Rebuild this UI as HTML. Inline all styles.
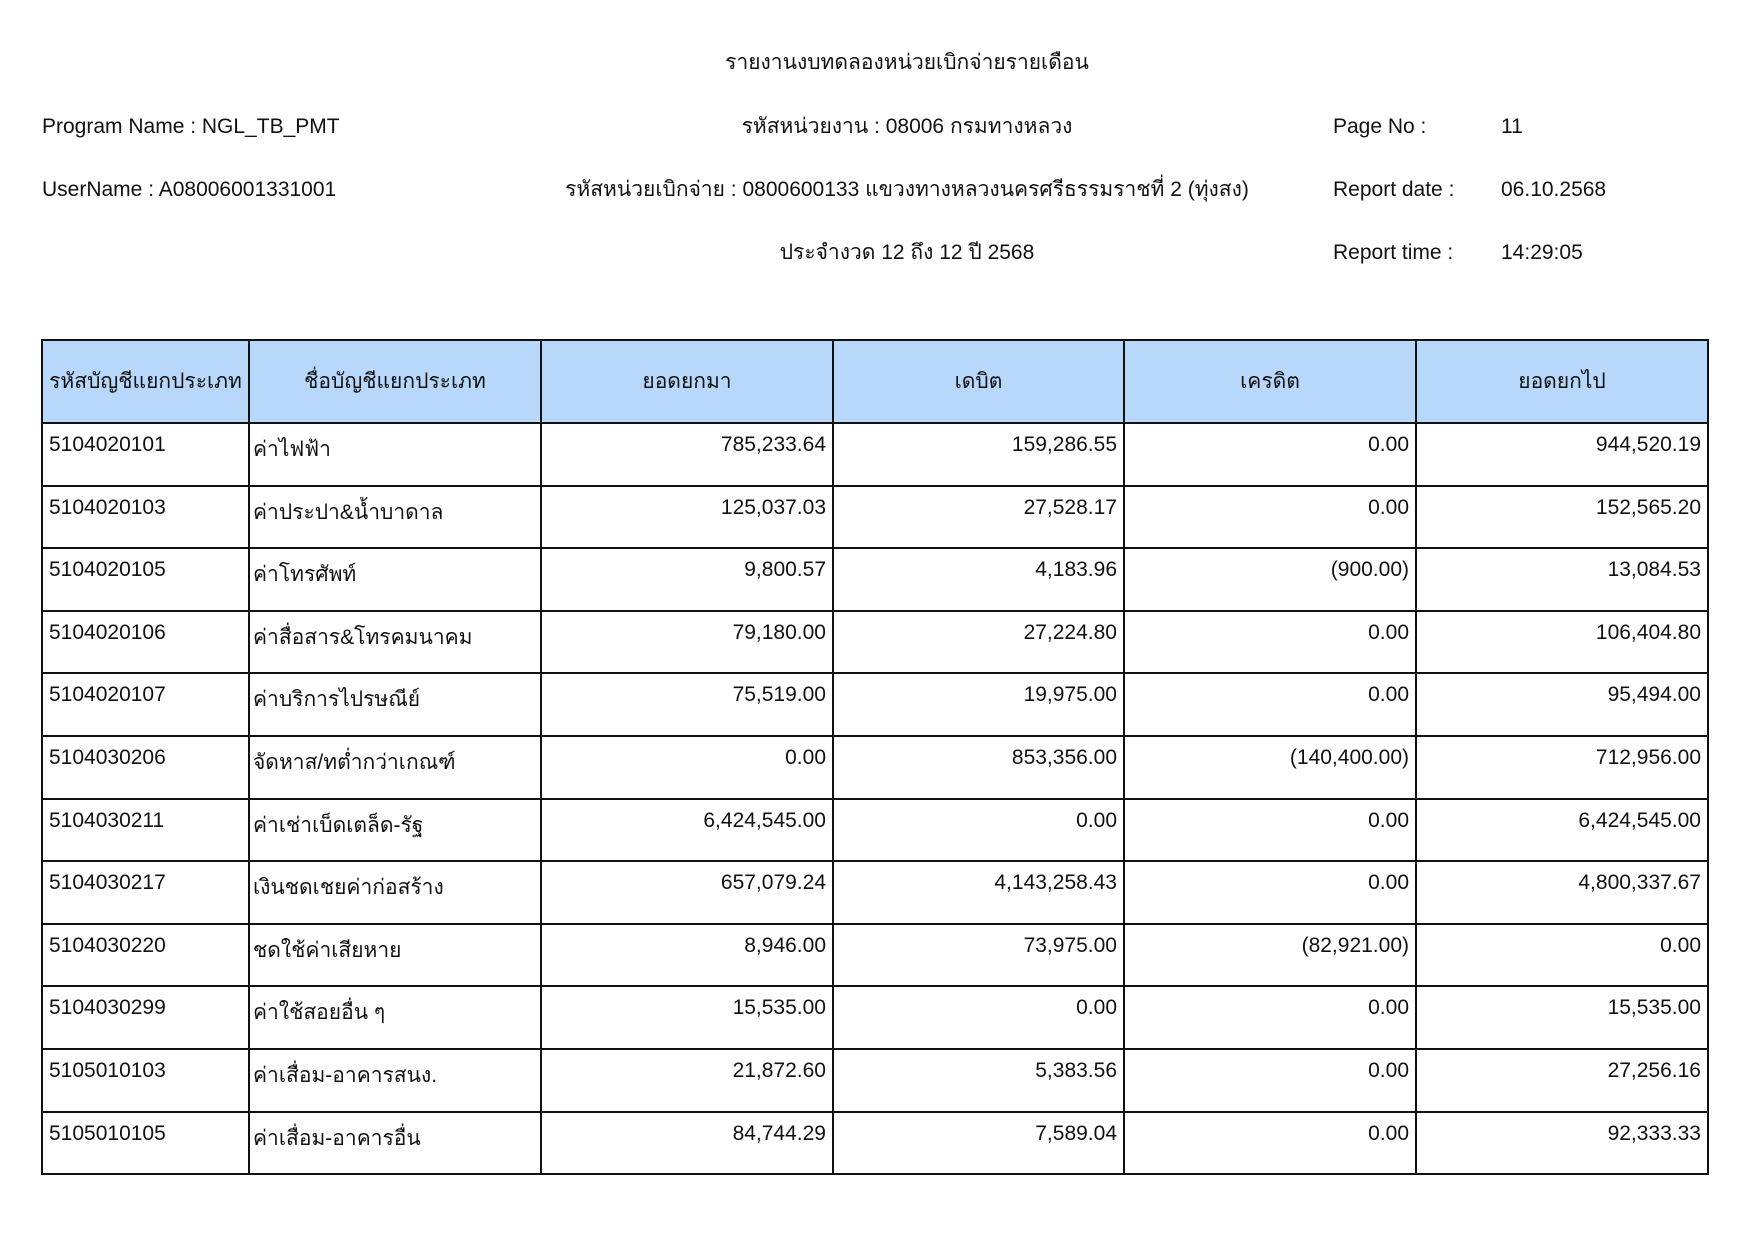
<!DOCTYPE html>
<html><head><meta charset="utf-8">
<style>
body{margin:0;width:1755px;height:1240px;background:#fff;font-family:"Liberation Sans",sans-serif;font-size:21px;color:#111;position:relative;overflow:hidden}
.t{position:absolute;white-space:nowrap;line-height:24px}
.c{transform:translateX(-50%)}
table{position:absolute;left:41px;top:339px;border-collapse:collapse;table-layout:fixed}
td,th{border:2px solid #111;padding:0 6px;font-weight:normal;white-space:nowrap;overflow:hidden}
th{background:#b7d7fb;height:81px;text-align:center}
td{height:62.6px;vertical-align:top;padding-top:9px;box-sizing:border-box}
td.r{text-align:right}
td.n{padding-left:3px}
</style></head><body>
<div class="t c" style="left:907px;top:51px">รายงานงบทดลองหน่วยเบิกจ่ายรายเดือน</div>
<div class="t" style="left:42px;top:115px">Program Name : NGL_TB_PMT</div>
<div class="t c" style="left:907px;top:115px">รหัสหน่วยงาน : 08006 กรมทางหลวง</div>
<div class="t" style="left:1333px;top:115px">Page No :</div>
<div class="t" style="left:1501px;top:115px">11</div>
<div class="t" style="left:42px;top:178px">UserName : A08006001331001</div>
<div class="t c" style="left:907px;top:178px">รหัสหน่วยเบิกจ่าย : 0800600133 แขวงทางหลวงนครศรีธรรมราชที่ 2 (ทุ่งสง)</div>
<div class="t" style="left:1333px;top:178px">Report date :</div>
<div class="t" style="left:1501px;top:178px">06.10.2568</div>
<div class="t c" style="left:907px;top:241px">ประจำงวด 12 ถึง 12 ปี 2568</div>
<div class="t" style="left:1333px;top:241px">Report time :</div>
<div class="t" style="left:1501px;top:241px">14:29:05</div>
<table>
<colgroup><col style="width:207px"><col style="width:292px"><col style="width:292px"><col style="width:291px"><col style="width:292px"><col style="width:292px"></colgroup>
<tr><th>รหัสบัญชีแยกประเภท</th><th>ชื่อบัญชีแยกประเภท</th><th>ยอดยกมา</th><th>เดบิต</th><th>เครดิต</th><th>ยอดยกไป</th></tr>
<tr><td>5104020101</td><td class="n">ค่าไฟฟ้า</td><td class="r">785,233.64</td><td class="r">159,286.55</td><td class="r">0.00</td><td class="r">944,520.19</td></tr>
<tr><td>5104020103</td><td class="n">ค่าประปา&amp;น้ำบาดาล</td><td class="r">125,037.03</td><td class="r">27,528.17</td><td class="r">0.00</td><td class="r">152,565.20</td></tr>
<tr><td>5104020105</td><td class="n">ค่าโทรศัพท์</td><td class="r">9,800.57</td><td class="r">4,183.96</td><td class="r">(900.00)</td><td class="r">13,084.53</td></tr>
<tr><td>5104020106</td><td class="n">ค่าสื่อสาร&amp;โทรคมนาคม</td><td class="r">79,180.00</td><td class="r">27,224.80</td><td class="r">0.00</td><td class="r">106,404.80</td></tr>
<tr><td>5104020107</td><td class="n">ค่าบริการไปรษณีย์</td><td class="r">75,519.00</td><td class="r">19,975.00</td><td class="r">0.00</td><td class="r">95,494.00</td></tr>
<tr><td>5104030206</td><td class="n">จัดหาส/ทต่ำกว่าเกณฑ์</td><td class="r">0.00</td><td class="r">853,356.00</td><td class="r">(140,400.00)</td><td class="r">712,956.00</td></tr>
<tr><td>5104030211</td><td class="n">ค่าเช่าเบ็ดเตล็ด-รัฐ</td><td class="r">6,424,545.00</td><td class="r">0.00</td><td class="r">0.00</td><td class="r">6,424,545.00</td></tr>
<tr><td>5104030217</td><td class="n">เงินชดเชยค่าก่อสร้าง</td><td class="r">657,079.24</td><td class="r">4,143,258.43</td><td class="r">0.00</td><td class="r">4,800,337.67</td></tr>
<tr><td>5104030220</td><td class="n">ชดใช้ค่าเสียหาย</td><td class="r">8,946.00</td><td class="r">73,975.00</td><td class="r">(82,921.00)</td><td class="r">0.00</td></tr>
<tr><td>5104030299</td><td class="n">ค่าใช้สอยอื่น ๆ</td><td class="r">15,535.00</td><td class="r">0.00</td><td class="r">0.00</td><td class="r">15,535.00</td></tr>
<tr><td>5105010103</td><td class="n">ค่าเสื่อม-อาคารสนง.</td><td class="r">21,872.60</td><td class="r">5,383.56</td><td class="r">0.00</td><td class="r">27,256.16</td></tr>
<tr><td>5105010105</td><td class="n">ค่าเสื่อม-อาคารอื่น</td><td class="r">84,744.29</td><td class="r">7,589.04</td><td class="r">0.00</td><td class="r">92,333.33</td></tr>
</table>
</body></html>
